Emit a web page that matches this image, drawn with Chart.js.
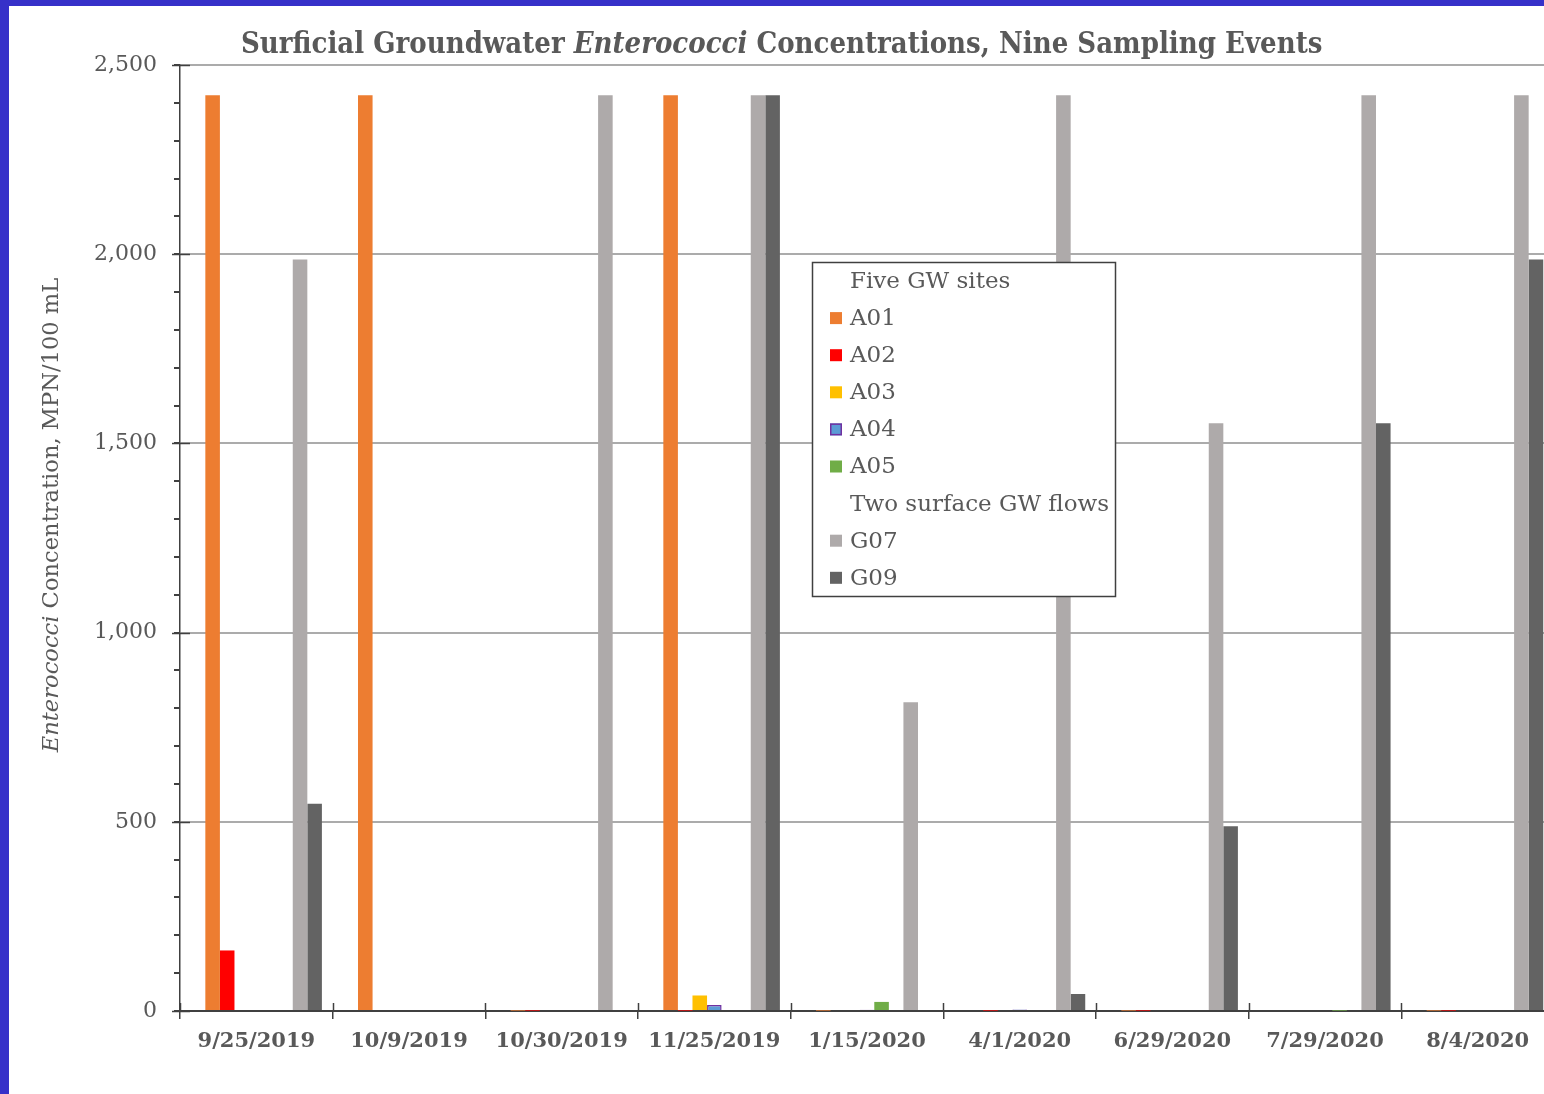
<!DOCTYPE html>
<html>
<head>
<meta charset="utf-8">
<title>Surficial Groundwater Enterococci Concentrations</title>
<script src="https://cdn.jsdelivr.net/npm/chart.js@4/dist/chart.umd.min.js"></script>
<style>
  html, body { margin: 0; padding: 0; width: 1544px; height: 1094px; overflow: hidden; background: #3631c9; }
  #frame { position: absolute; left: 9px; top: 6px; width: 1560px; height: 1088px; background: #ffffff; }
  canvas { display: block; }
</style>
</head>
<body>
<div id="frame"><canvas id="chart" width="1560" height="1088"></canvas></div>
<script>
// Sampling events (x categories)
const samplingDates = ['9/25/2019', '10/9/2019', '10/30/2019', '11/25/2019', '1/15/2020',
                       '4/1/2020', '6/29/2020', '7/29/2020', '8/4/2020'];

// Enterococci, MPN/100 mL (2420 = upper reporting limit); null = no bar
const A01 = [2420, 2420, 1, 2420, 1, null, 1, null, 1];
const A02 = [160, null, 1, 1, null, 1, 1, null, 1];
const A03 = [null, null, null, 41, null, null, null, null, null];
const A04 = [null, null, null, 16, 3, 4, null, null, null];
const A05 = [null, null, null, null, 24, null, null, 1, null];
const G07 = [1986, null, 2420, 2420, 816, 2420, 1553, 2420, 2420];
const G09 = [548, null, null, 2420, null, 45, 488, 1553, 1986];

// Legend group headings (empty series that keep their slot in each group)
const groupHeadingGW = 'Five GW sites';
const groupHeadingFlows = 'Two surface GW flows';

const yTicksMajor = [0, 500, 1000, 1500, 2000, 2500];

const FONT = "'DejaVu Serif', 'Liberation Serif', serif";
const TEXT = '#595959';
const AXIS = '#404040';

const empty = samplingDates.map(() => null);

const datasets = [
  { label: groupHeadingGW, data: empty, backgroundColor: 'rgba(0,0,0,0)', heading: true },
  { label: 'A01', data: A01, backgroundColor: '#ED7D31' },
  { label: 'A02', data: A02, backgroundColor: '#FF0000' },
  { label: 'A03', data: A03, backgroundColor: '#FFC000' },
  { label: 'A04', data: A04, backgroundColor: '#5B9BD5', borderColor: '#7030A0', borderWidth: 1.5 },
  { label: 'A05', data: A05, backgroundColor: '#70AD47' },
  { label: groupHeadingFlows, data: empty, backgroundColor: 'rgba(0,0,0,0)', heading: true },
  { label: 'G07', data: G07, backgroundColor: '#AEAAAA' },
  { label: 'G09', data: G09, backgroundColor: '#636363' }
];

// Title, rotated axis title (with italic genus name), legend box and axis tick crosses
const overlay = {
  id: 'overlay',
  afterDraw(chart) {
    const ctx = chart.ctx;
    const area = chart.chartArea;
    const ys = chart.scales.y;

    function drawRuns(runs, x, y, size, weight) {
      let cx = x;
      runs.forEach(r => {
        ctx.font = (r.italic ? 'italic ' : '') + weight + ' ' + size + 'px ' + r.family;
        ctx.fillText(r.text, cx, y);
        cx += ctx.measureText(r.text).width;
      });
    }
    function runsWidth(runs, size, weight) {
      let w = 0;
      runs.forEach(r => {
        ctx.font = (r.italic ? 'italic ' : '') + weight + ' ' + size + 'px ' + r.family;
        w += ctx.measureText(r.text).width;
      });
      return w;
    }

    ctx.save();
    ctx.fillStyle = TEXT;
    ctx.textBaseline = 'middle';
    ctx.textAlign = 'left';

    // chart title
    const titleFamily = "'DejaVu Serif Condensed', 'Liberation Serif', serif";
    const titleRuns = [
      { text: 'Surficial Groundwater ', family: titleFamily },
      { text: 'Enterococci', family: titleFamily, italic: true },
      { text: ' Concentrations, Nine Sampling Events', family: titleFamily }
    ];
    drawRuns(titleRuns, 232, 39, 29, 'bold');

    // y axis title
    const yRuns = [
      { text: 'Enterococci', family: FONT, italic: true },
      { text: ' Concentration, MPN/100 mL', family: FONT }
    ];
    ctx.save();
    ctx.translate(43, 509);
    ctx.rotate(-Math.PI / 2);
    const yw = runsWidth(yRuns, 22.6, 'normal');
    drawRuns(yRuns, -yw / 2, 0, 22.6, 'normal');
    ctx.restore();

    // major y ticks crossing the axis
    ctx.strokeStyle = AXIS;
    ctx.lineWidth = 1.5;
    yTicksMajor.forEach(v => {
      const py = Math.round(ys.getPixelForValue(v)) + 0.5;
      ctx.beginPath();
      ctx.moveTo(area.left - 8, py);
      ctx.lineTo(area.left + 10, py);
      ctx.stroke();
    });
    // x category boundary ticks crossing the axis
    const step = (area.right - area.left) / samplingDates.length;
    for (let i = 0; i <= samplingDates.length; i++) {
      const px = Math.round(area.left + i * step) + 0.5;
      ctx.beginPath();
      ctx.moveTo(px, area.bottom - 8);
      ctx.lineTo(px, area.bottom);
      ctx.stroke();
    }

    // legend box
    const box = { x: 803, y: 256, w: 303, h: 334 };
    ctx.fillStyle = '#ffffff';
    ctx.fillRect(box.x, box.y, box.w, box.h);
    ctx.strokeStyle = AXIS;
    ctx.lineWidth = 1.5;
    ctx.strokeRect(box.x + 0.5, box.y + 0.5, box.w, box.h);

    ctx.font = '23px ' + FONT;
    chart.data.datasets.forEach((ds, i) => {
      const cy = 275 + i * 37.1;
      if (!ds.heading) {
        ctx.fillStyle = ds.backgroundColor;
        ctx.fillRect(821, cy - 6, 12, 12);
        if (ds.borderWidth) {
          ctx.strokeStyle = ds.borderColor;
          ctx.lineWidth = 1.5;
          ctx.strokeRect(821.75, cy - 5.25, 10.5, 10.5);
        }
      }
      ctx.fillStyle = TEXT;
      ctx.fillText(ds.label, 841, cy + 1);
    });
    ctx.restore();
  }
};

new Chart(document.getElementById('chart'), {
  type: 'bar',
  data: { labels: samplingDates, datasets },
  options: {
    responsive: false,
    animation: false,
    devicePixelRatio: 1,
    layout: { padding: { left: 0, top: 59, right: 15, bottom: 0 } },
    datasets: { bar: { categoryPercentage: 0.859, barPercentage: 1.0, borderWidth: 0 } },
    plugins: { legend: { display: false }, title: { display: false }, tooltip: { enabled: false } },
    scales: {
      x: {
        grid: { offset: true, drawOnChartArea: false, tickLength: 8, tickColor: AXIS, lineWidth: 1.5 },
        border: { color: AXIS, width: 2 },
        ticks: { color: TEXT, font: { family: FONT, size: 21, weight: 'bold' }, padding: 10, maxRotation: 0 },
        afterFit(scale) { scale.height = 83; }
      },
      y: {
        min: 0, max: 2500,
        grid: {
          color: ctx => (ctx.tick && ctx.tick.value % 500 === 0 && ctx.tick.value !== 0) ? '#ababab' : 'rgba(0,0,0,0)',
          lineWidth: 2,
          tickColor: AXIS,
          tickLength: 6
        },
        border: { color: AXIS, width: 1.5 },
        ticks: {
          stepSize: 100, autoSkip: false, maxTicksLimit: 40,
          color: TEXT, font: { family: FONT, size: 22 }, padding: 17,
          callback: v => (v % 500 === 0 ? v.toLocaleString('en-US') : '')
        },
        afterFit(scale) { scale.width = 171; }
      }
    }
  },
  plugins: [overlay]
});
</script>
</body>
</html>
